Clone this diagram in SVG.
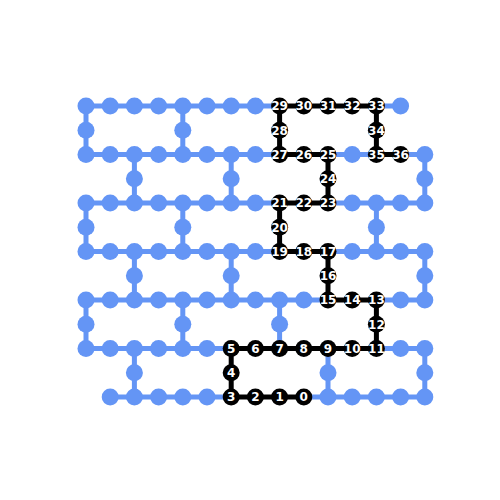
<svg xmlns="http://www.w3.org/2000/svg" width="500" height="500" viewBox="0 0 500 500">
<style>
.e{stroke:#6495f5;stroke-width:5;fill:none}
.p{stroke:#000;stroke-width:5;fill:none}
.b{fill:#6495f5}
.k{fill:#000}
.t{fill:#fff;font-family:"DejaVu Sans",sans-serif;font-weight:bold;font-size:12px;text-anchor:middle}
</style>
<rect width="500" height="500" fill="#fff"/>
<g id="connectors">
<g id="blue-edges" class="e">
<path d="M86 106H110.2M110.2 106H134.4M134.4 106H158.6M158.6 106H182.8M182.8 106H207M207 106H231.2M231.2 106H255.4M255.4 106H279.6M376.4 106H400.6"/>
<path d="M86 154.5H110.2M110.2 154.5H134.4M134.4 154.5H158.6M158.6 154.5H182.8M182.8 154.5H207M207 154.5H231.2M231.2 154.5H255.4M255.4 154.5H279.6M328 154.5H352.2M352.2 154.5H376.4M400.6 154.5H424.8"/>
<path d="M86 203H110.2M110.2 203H134.4M134.4 203H158.6M158.6 203H182.8M182.8 203H207M207 203H231.2M231.2 203H255.4M255.4 203H279.6M328 203H352.2M352.2 203H376.4M376.4 203H400.6M400.6 203H424.8"/>
<path d="M86 251.5H110.2M110.2 251.5H134.4M134.4 251.5H158.6M158.6 251.5H182.8M182.8 251.5H207M207 251.5H231.2M231.2 251.5H255.4M255.4 251.5H279.6M328 251.5H352.2M352.2 251.5H376.4M376.4 251.5H400.6M400.6 251.5H424.8"/>
<path d="M86 300H110.2M110.2 300H134.4M134.4 300H158.6M158.6 300H182.8M182.8 300H207M207 300H231.2M231.2 300H255.4M255.4 300H279.6M279.6 300H303.8M303.8 300H328M376.4 300H400.6M400.6 300H424.8"/>
<path d="M86 348.5H110.2M110.2 348.5H134.4M134.4 348.5H158.6M158.6 348.5H182.8M182.8 348.5H207M207 348.5H231.2M376.4 348.5H400.6M400.6 348.5H424.8"/>
<path d="M110.2 397H134.4M134.4 397H158.6M158.6 397H182.8M182.8 397H207M207 397H231.2M303.8 397H328M328 397H352.2M352.2 397H376.4M376.4 397H400.6M400.6 397H424.8"/>
<path d="M86 106V130.25M86 130.25V154.5M182.8 106V130.25M182.8 130.25V154.5"/>
<path d="M134.4 154.5V178.75M134.4 178.75V203M231.2 154.5V178.75M231.2 178.75V203M424.8 154.5V178.75M424.8 178.75V203"/>
<path d="M86 203V227.25M86 227.25V251.5M182.8 203V227.25M182.8 227.25V251.5M376.4 203V227.25M376.4 227.25V251.5"/>
<path d="M134.4 251.5V275.75M134.4 275.75V300M231.2 251.5V275.75M231.2 275.75V300M424.8 251.5V275.75M424.8 275.75V300"/>
<path d="M86 300V324.25M86 324.25V348.5M182.8 300V324.25M182.8 324.25V348.5M279.6 300V324.25M279.6 324.25V348.5"/>
<path d="M134.4 348.5V372.75M134.4 372.75V397M328 348.5V372.75M328 372.75V397M424.8 348.5V372.75M424.8 372.75V397"/>
</g>
<g id="path-edges" class="p">
<path d="M303.8 397H279.6M279.6 397H255.4M255.4 397H231.2M231.2 397V372.75M231.2 372.75V348.5M231.2 348.5H255.4M255.4 348.5H279.6M279.6 348.5H303.8M303.8 348.5H328M328 348.5H352.2M352.2 348.5H376.4M376.4 348.5V324.25M376.4 324.25V300M376.4 300H352.2M352.2 300H328M328 300V275.75M328 275.75V251.5M328 251.5H303.8M303.8 251.5H279.6M279.6 251.5V227.25M279.6 227.25V203M279.6 203H303.8M303.8 203H328M328 203V178.75M328 178.75V154.5M328 154.5H303.8M303.8 154.5H279.6M279.6 154.5V130.25M279.6 130.25V106M279.6 106H303.8M303.8 106H328M328 106H352.2M352.2 106H376.4M376.4 106V130.25M376.4 130.25V154.5M376.4 154.5H400.6"/>
</g>
</g>
<g id="nodes">
<g id="grid-nodes" class="b">
<g id="g0-0"><circle cx="86" cy="106" r="8.5"/></g>
<g id="g1-0"><circle cx="110.2" cy="106" r="8.5"/></g>
<g id="g2-0"><circle cx="134.4" cy="106" r="8.5"/></g>
<g id="g3-0"><circle cx="158.6" cy="106" r="8.5"/></g>
<g id="g4-0"><circle cx="182.8" cy="106" r="8.5"/></g>
<g id="g5-0"><circle cx="207" cy="106" r="8.5"/></g>
<g id="g6-0"><circle cx="231.2" cy="106" r="8.5"/></g>
<g id="g7-0"><circle cx="255.4" cy="106" r="8.5"/></g>
<g id="g13-0"><circle cx="400.6" cy="106" r="8.5"/></g>
<g id="g0-1"><circle cx="86" cy="130.25" r="8.5"/></g>
<g id="g4-1"><circle cx="182.8" cy="130.25" r="8.5"/></g>
<g id="g0-2"><circle cx="86" cy="154.5" r="8.5"/></g>
<g id="g1-2"><circle cx="110.2" cy="154.5" r="8.5"/></g>
<g id="g2-2"><circle cx="134.4" cy="154.5" r="8.5"/></g>
<g id="g3-2"><circle cx="158.6" cy="154.5" r="8.5"/></g>
<g id="g4-2"><circle cx="182.8" cy="154.5" r="8.5"/></g>
<g id="g5-2"><circle cx="207" cy="154.5" r="8.5"/></g>
<g id="g6-2"><circle cx="231.2" cy="154.5" r="8.5"/></g>
<g id="g7-2"><circle cx="255.4" cy="154.5" r="8.5"/></g>
<g id="g11-2"><circle cx="352.2" cy="154.5" r="8.5"/></g>
<g id="g14-2"><circle cx="424.8" cy="154.5" r="8.5"/></g>
<g id="g2-3"><circle cx="134.4" cy="178.75" r="8.5"/></g>
<g id="g6-3"><circle cx="231.2" cy="178.75" r="8.5"/></g>
<g id="g14-3"><circle cx="424.8" cy="178.75" r="8.5"/></g>
<g id="g0-4"><circle cx="86" cy="203" r="8.5"/></g>
<g id="g1-4"><circle cx="110.2" cy="203" r="8.5"/></g>
<g id="g2-4"><circle cx="134.4" cy="203" r="8.5"/></g>
<g id="g3-4"><circle cx="158.6" cy="203" r="8.5"/></g>
<g id="g4-4"><circle cx="182.8" cy="203" r="8.5"/></g>
<g id="g5-4"><circle cx="207" cy="203" r="8.5"/></g>
<g id="g6-4"><circle cx="231.2" cy="203" r="8.5"/></g>
<g id="g7-4"><circle cx="255.4" cy="203" r="8.5"/></g>
<g id="g11-4"><circle cx="352.2" cy="203" r="8.5"/></g>
<g id="g12-4"><circle cx="376.4" cy="203" r="8.5"/></g>
<g id="g13-4"><circle cx="400.6" cy="203" r="8.5"/></g>
<g id="g14-4"><circle cx="424.8" cy="203" r="8.5"/></g>
<g id="g0-5"><circle cx="86" cy="227.25" r="8.5"/></g>
<g id="g4-5"><circle cx="182.8" cy="227.25" r="8.5"/></g>
<g id="g12-5"><circle cx="376.4" cy="227.25" r="8.5"/></g>
<g id="g0-6"><circle cx="86" cy="251.5" r="8.5"/></g>
<g id="g1-6"><circle cx="110.2" cy="251.5" r="8.5"/></g>
<g id="g2-6"><circle cx="134.4" cy="251.5" r="8.5"/></g>
<g id="g3-6"><circle cx="158.6" cy="251.5" r="8.5"/></g>
<g id="g4-6"><circle cx="182.8" cy="251.5" r="8.5"/></g>
<g id="g5-6"><circle cx="207" cy="251.5" r="8.5"/></g>
<g id="g6-6"><circle cx="231.2" cy="251.5" r="8.5"/></g>
<g id="g7-6"><circle cx="255.4" cy="251.5" r="8.5"/></g>
<g id="g11-6"><circle cx="352.2" cy="251.5" r="8.5"/></g>
<g id="g12-6"><circle cx="376.4" cy="251.5" r="8.5"/></g>
<g id="g13-6"><circle cx="400.6" cy="251.5" r="8.5"/></g>
<g id="g14-6"><circle cx="424.8" cy="251.5" r="8.5"/></g>
<g id="g2-7"><circle cx="134.4" cy="275.75" r="8.5"/></g>
<g id="g6-7"><circle cx="231.2" cy="275.75" r="8.5"/></g>
<g id="g14-7"><circle cx="424.8" cy="275.75" r="8.5"/></g>
<g id="g0-8"><circle cx="86" cy="300" r="8.5"/></g>
<g id="g1-8"><circle cx="110.2" cy="300" r="8.5"/></g>
<g id="g2-8"><circle cx="134.4" cy="300" r="8.5"/></g>
<g id="g3-8"><circle cx="158.6" cy="300" r="8.5"/></g>
<g id="g4-8"><circle cx="182.8" cy="300" r="8.5"/></g>
<g id="g5-8"><circle cx="207" cy="300" r="8.5"/></g>
<g id="g6-8"><circle cx="231.2" cy="300" r="8.5"/></g>
<g id="g7-8"><circle cx="255.4" cy="300" r="8.5"/></g>
<g id="g8-8"><circle cx="279.6" cy="300" r="8.5"/></g>
<g id="g9-8"><circle cx="303.8" cy="300" r="8.5"/></g>
<g id="g13-8"><circle cx="400.6" cy="300" r="8.5"/></g>
<g id="g14-8"><circle cx="424.8" cy="300" r="8.5"/></g>
<g id="g0-9"><circle cx="86" cy="324.25" r="8.5"/></g>
<g id="g4-9"><circle cx="182.8" cy="324.25" r="8.5"/></g>
<g id="g8-9"><circle cx="279.6" cy="324.25" r="8.5"/></g>
<g id="g0-10"><circle cx="86" cy="348.5" r="8.5"/></g>
<g id="g1-10"><circle cx="110.2" cy="348.5" r="8.5"/></g>
<g id="g2-10"><circle cx="134.4" cy="348.5" r="8.5"/></g>
<g id="g3-10"><circle cx="158.6" cy="348.5" r="8.5"/></g>
<g id="g4-10"><circle cx="182.8" cy="348.5" r="8.5"/></g>
<g id="g5-10"><circle cx="207" cy="348.5" r="8.5"/></g>
<g id="g13-10"><circle cx="400.6" cy="348.5" r="8.5"/></g>
<g id="g14-10"><circle cx="424.8" cy="348.5" r="8.5"/></g>
<g id="g2-11"><circle cx="134.4" cy="372.75" r="8.5"/></g>
<g id="g10-11"><circle cx="328" cy="372.75" r="8.5"/></g>
<g id="g14-11"><circle cx="424.8" cy="372.75" r="8.5"/></g>
<g id="g1-12"><circle cx="110.2" cy="397" r="8.5"/></g>
<g id="g2-12"><circle cx="134.4" cy="397" r="8.5"/></g>
<g id="g3-12"><circle cx="158.6" cy="397" r="8.5"/></g>
<g id="g4-12"><circle cx="182.8" cy="397" r="8.5"/></g>
<g id="g5-12"><circle cx="207" cy="397" r="8.5"/></g>
<g id="g10-12"><circle cx="328" cy="397" r="8.5"/></g>
<g id="g11-12"><circle cx="352.2" cy="397" r="8.5"/></g>
<g id="g12-12"><circle cx="376.4" cy="397" r="8.5"/></g>
<g id="g13-12"><circle cx="400.6" cy="397" r="8.5"/></g>
<g id="g14-12"><circle cx="424.8" cy="397" r="8.5"/></g>
</g>
<g id="path-nodes">
<g id="p0"><circle class="k" cx="303.8" cy="397" r="8.5"/><text class="t" x="303.8" y="401.4">0</text></g>
<g id="p1"><circle class="k" cx="279.6" cy="397" r="8.5"/><text class="t" x="279.6" y="401.4">1</text></g>
<g id="p2"><circle class="k" cx="255.4" cy="397" r="8.5"/><text class="t" x="255.4" y="401.4">2</text></g>
<g id="p3"><circle class="k" cx="231.2" cy="397" r="8.5"/><text class="t" x="231.2" y="401.4">3</text></g>
<g id="p4"><circle class="k" cx="231.2" cy="372.75" r="8.5"/><text class="t" x="231.2" y="377.15">4</text></g>
<g id="p5"><circle class="k" cx="231.2" cy="348.5" r="8.5"/><text class="t" x="231.2" y="352.9">5</text></g>
<g id="p6"><circle class="k" cx="255.4" cy="348.5" r="8.5"/><text class="t" x="255.4" y="352.9">6</text></g>
<g id="p7"><circle class="k" cx="279.6" cy="348.5" r="8.5"/><text class="t" x="279.6" y="352.9">7</text></g>
<g id="p8"><circle class="k" cx="303.8" cy="348.5" r="8.5"/><text class="t" x="303.8" y="352.9">8</text></g>
<g id="p9"><circle class="k" cx="328" cy="348.5" r="8.5"/><text class="t" x="328" y="352.9">9</text></g>
<g id="p10"><circle class="k" cx="352.2" cy="348.5" r="8.5"/><text class="t" x="352.2" y="352.9">10</text></g>
<g id="p11"><circle class="k" cx="376.4" cy="348.5" r="8.5"/><text class="t" x="376.4" y="352.9">11</text></g>
<g id="p12"><circle class="k" cx="376.4" cy="324.25" r="8.5"/><text class="t" x="376.4" y="328.65">12</text></g>
<g id="p13"><circle class="k" cx="376.4" cy="300" r="8.5"/><text class="t" x="376.4" y="304.4">13</text></g>
<g id="p14"><circle class="k" cx="352.2" cy="300" r="8.5"/><text class="t" x="352.2" y="304.4">14</text></g>
<g id="p15"><circle class="k" cx="328" cy="300" r="8.5"/><text class="t" x="328" y="304.4">15</text></g>
<g id="p16"><circle class="k" cx="328" cy="275.75" r="8.5"/><text class="t" x="328" y="280.15">16</text></g>
<g id="p17"><circle class="k" cx="328" cy="251.5" r="8.5"/><text class="t" x="328" y="255.9">17</text></g>
<g id="p18"><circle class="k" cx="303.8" cy="251.5" r="8.5"/><text class="t" x="303.8" y="255.9">18</text></g>
<g id="p19"><circle class="k" cx="279.6" cy="251.5" r="8.5"/><text class="t" x="279.6" y="255.9">19</text></g>
<g id="p20"><circle class="k" cx="279.6" cy="227.25" r="8.5"/><text class="t" x="279.6" y="231.65">20</text></g>
<g id="p21"><circle class="k" cx="279.6" cy="203" r="8.5"/><text class="t" x="279.6" y="207.4">21</text></g>
<g id="p22"><circle class="k" cx="303.8" cy="203" r="8.5"/><text class="t" x="303.8" y="207.4">22</text></g>
<g id="p23"><circle class="k" cx="328" cy="203" r="8.5"/><text class="t" x="328" y="207.4">23</text></g>
<g id="p24"><circle class="k" cx="328" cy="178.75" r="8.5"/><text class="t" x="328" y="183.15">24</text></g>
<g id="p25"><circle class="k" cx="328" cy="154.5" r="8.5"/><text class="t" x="328" y="158.9">25</text></g>
<g id="p26"><circle class="k" cx="303.8" cy="154.5" r="8.5"/><text class="t" x="303.8" y="158.9">26</text></g>
<g id="p27"><circle class="k" cx="279.6" cy="154.5" r="8.5"/><text class="t" x="279.6" y="158.9">27</text></g>
<g id="p28"><circle class="k" cx="279.6" cy="130.25" r="8.5"/><text class="t" x="279.6" y="134.65">28</text></g>
<g id="p29"><circle class="k" cx="279.6" cy="106" r="8.5"/><text class="t" x="279.6" y="110.4">29</text></g>
<g id="p30"><circle class="k" cx="303.8" cy="106" r="8.5"/><text class="t" x="303.8" y="110.4">30</text></g>
<g id="p31"><circle class="k" cx="328" cy="106" r="8.5"/><text class="t" x="328" y="110.4">31</text></g>
<g id="p32"><circle class="k" cx="352.2" cy="106" r="8.5"/><text class="t" x="352.2" y="110.4">32</text></g>
<g id="p33"><circle class="k" cx="376.4" cy="106" r="8.5"/><text class="t" x="376.4" y="110.4">33</text></g>
<g id="p34"><circle class="k" cx="376.4" cy="130.25" r="8.5"/><text class="t" x="376.4" y="134.65">34</text></g>
<g id="p35"><circle class="k" cx="376.4" cy="154.5" r="8.5"/><text class="t" x="376.4" y="158.9">35</text></g>
<g id="p36"><circle class="k" cx="400.6" cy="154.5" r="8.5"/><text class="t" x="400.6" y="158.9">36</text></g>
</g>
</g>
</svg>
